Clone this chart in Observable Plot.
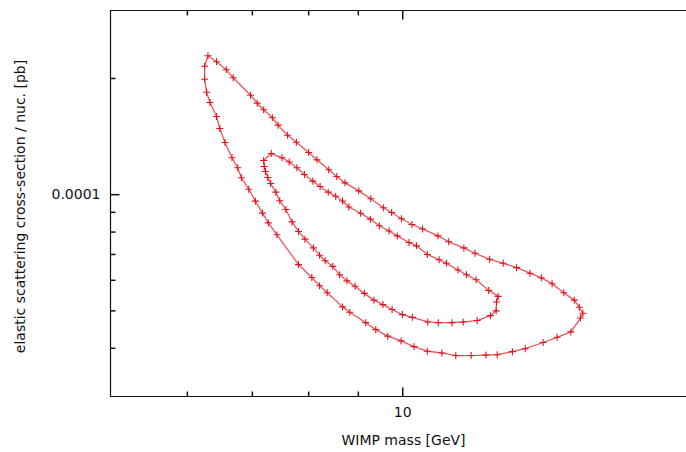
<!DOCTYPE html>
<html>
<head>
<meta charset="utf-8">
<script src="https://cdn.jsdelivr.net/npm/d3@7"></script>
<script src="https://cdn.jsdelivr.net/npm/@observablehq/plot@0.6"></script>
<style>
  html, body { margin: 0; padding: 0; background: #fff; }
  #chart { width: 686px; height: 452px; overflow: hidden; }
</style>
</head>
<body>
<div id="chart"></div>
<script>
// ---- Data ----
const xLabel = "WIMP mass [GeV]";
const yLabel = "elastic scattering cross-section / nuc. [pb]";
const xMajorTicks = [10];
const xMinorTicks = [6, 7, 8, 9];
const yMajorTicks = [1e-4];
const yMinorTicks = [4e-5, 5e-5, 6e-5, 7e-5, 8e-5, 9e-5, 2e-4];

// outer contour: WIMP mass [GeV], cross-section [pb]
const outerMass = [6.30, 6.43, 6.58, 6.69, 6.97, 7.08, 7.19, 7.34, 7.44, 7.61, 7.77, 8.00, 8.16, 8.39, 8.55,
  8.72, 9.01, 9.27, 9.55, 9.74, 9.97, 10.22, 10.48, 10.87, 11.15, 11.56, 11.87, 12.29, 12.69, 13.10,
  13.52, 13.89, 14.25, 14.65, 15.02, 15.20, 15.33, 15.24, 14.90, 14.42, 13.95, 13.37, 12.97, 12.51, 12.18,
  11.76, 11.34, 10.97, 10.60, 10.27, 9.96, 9.65, 9.38, 9.16, 8.82, 8.67, 8.36, 8.21, 8.06, 7.81,
  7.42, 7.27, 7.17, 7.05, 6.94, 6.82, 6.76, 6.67, 6.56, 6.48, 6.43, 6.33, 6.28, 6.25, 6.25];
const outerSigma = [22.90e-5, 22.09e-5, 21.06e-5, 20.08e-5, 18.10e-5, 17.26e-5, 16.59e-5, 15.82e-5, 15.14e-5, 14.26e-5,
  13.67e-5, 12.86e-5, 12.31e-5, 11.60e-5, 11.14e-5, 10.73e-5, 10.23e-5, 9.76e-5, 9.25e-5, 8.99e-5,
  8.66e-5, 8.37e-5, 8.15e-5, 7.82e-5, 7.55e-5, 7.28e-5, 7.05e-5, 6.80e-5, 6.64e-5, 6.47e-5,
  6.26e-5, 6.09e-5, 5.88e-5, 5.57e-5, 5.33e-5, 5.11e-5, 4.93e-5, 4.79e-5, 4.41e-5, 4.27e-5,
  4.14e-5, 3.99e-5, 3.92e-5, 3.85e-5, 3.84e-5, 3.83e-5, 3.83e-5, 3.89e-5, 3.93e-5, 4.04e-5,
  4.18e-5, 4.30e-5, 4.47e-5, 4.66e-5, 4.96e-5, 5.12e-5, 5.57e-5, 5.81e-5, 6.10e-5, 6.59e-5,
  7.87e-5, 8.45e-5, 8.96e-5, 9.62e-5, 10.33e-5, 11.06e-5, 11.74e-5, 12.46e-5, 13.65e-5, 14.84e-5,
  15.94e-5, 17.33e-5, 18.43e-5, 19.91e-5, 21.52e-5];

// inner contour
const innerMass = [7.32, 7.51, 7.64, 7.78, 7.92, 8.08, 8.22, 8.38, 8.53, 8.67, 8.80, 9.05, 9.26, 9.46, 9.68,
  9.87, 10.15, 10.33, 10.60, 10.90, 11.09, 11.40, 11.63, 11.90, 12.26, 12.54, 12.49, 12.48, 12.31, 11.93,
  11.54, 11.24, 10.88, 10.61, 10.23, 9.99, 9.75, 9.54, 9.34, 9.13, 8.93, 8.76, 8.61, 8.47, 8.32,
  8.21, 8.09, 7.93, 7.81, 7.69, 7.58, 7.47, 7.40, 7.31, 7.26, 7.22, 7.20, 7.19];
const innerSigma = [12.78e-5, 12.46e-5, 12.15e-5, 11.74e-5, 11.28e-5, 10.84e-5, 10.50e-5, 10.15e-5, 9.91e-5, 9.63e-5,
  9.29e-5, 8.95e-5, 8.64e-5, 8.31e-5, 8.05e-5, 7.82e-5, 7.52e-5, 7.37e-5, 7.00e-5, 6.78e-5,
  6.64e-5, 6.38e-5, 6.20e-5, 6.02e-5, 5.65e-5, 5.45e-5, 5.27e-5, 5.00e-5, 4.86e-5, 4.72e-5,
  4.68e-5, 4.66e-5, 4.66e-5, 4.68e-5, 4.81e-5, 4.89e-5, 5.04e-5, 5.19e-5, 5.33e-5, 5.55e-5,
  5.79e-5, 5.98e-5, 6.20e-5, 6.52e-5, 6.74e-5, 6.97e-5, 7.28e-5, 7.67e-5, 8.03e-5, 8.50e-5,
  9.15e-5, 9.64e-5, 10.15e-5, 10.69e-5, 11.08e-5, 11.48e-5, 11.83e-5, 12.26e-5];

// ---- Build tables ----
function contour(name, xs, ys) {
  return xs.map((m, i) => ({contour: name, mass: m, sigma: ys[i]}));
}
const outerPts = contour("outer", outerMass, outerSigma);
const innerPts = contour("inner", innerMass, innerSigma);
const points = outerPts.concat(innerPts);
// closed loops for the connecting line
const loops = outerPts.concat([outerPts[0]], innerPts, [innerPts[0]]);

// ---- Custom stroke symbols ----
const plusSym = {draw(ctx) { const r = 3.5; ctx.moveTo(-r, 0); ctx.lineTo(r, 0); ctx.moveTo(0, -r); ctx.lineTo(0, r); }};
const seg = (dx, dy) => ({draw(ctx) { ctx.moveTo(0, 0); ctx.lineTo(dx, dy); }});

const red = "#e3121c";
const ink = "#111";

const chart = Plot.plot({
  width: 686,
  height: 452,
  marginLeft: 110,
  marginRight: 0,
  marginTop: 10,
  marginBottom: 56,
  x: {type: "log", domain: [5, 19.6], axis: null},
  y: {type: "log", domain: [3e-5, 3e-4], axis: null},
  style: {fontFamily: "DejaVu Sans", fontSize: "14px", background: "#fff", color: ink},
  marks: [
    // contour lines
    Plot.line(loops, {x: "mass", y: "sigma", z: "contour", stroke: "#e23a40", strokeWidth: 1.3, strokeOpacity: 0.85, curve: "linear"}),
    // "+" markers
    Plot.dot(points, {x: "mass", y: "sigma", symbol: plusSym, fill: "none", stroke: red, strokeWidth: 1.1}),
    // border lines (left, bottom, top)
    Plot.ruleX([5], {stroke: ink, strokeWidth: 1.2}),
    Plot.ruleY([3e-5], {stroke: ink, strokeWidth: 1.2}),
    Plot.ruleY([3e-4], {stroke: ink, strokeWidth: 1.2}),
    // inward ticks: bottom
    Plot.dot(xMajorTicks, {x: d => d, frameAnchor: "bottom", symbol: seg(0, -9), fill: "none", stroke: ink}),
    Plot.dot(xMinorTicks, {x: d => d, frameAnchor: "bottom", symbol: seg(0, -5), fill: "none", stroke: ink}),
    // mirrored ticks: top
    Plot.dot(xMajorTicks, {x: d => d, frameAnchor: "top", symbol: seg(0, 9), fill: "none", stroke: ink}),
    Plot.dot(xMinorTicks, {x: d => d, frameAnchor: "top", symbol: seg(0, 5), fill: "none", stroke: ink}),
    // left ticks
    Plot.dot(yMajorTicks, {y: d => d, frameAnchor: "left", symbol: seg(9, 0), fill: "none", stroke: ink}),
    Plot.dot(yMinorTicks, {y: d => d, frameAnchor: "left", symbol: seg(5, 0), fill: "none", stroke: ink}),
    // tick labels
    Plot.text(xMajorTicks, {x: d => d, frameAnchor: "bottom", dy: 16, lineAnchor: "middle", text: d => String(d), fill: ink}),
    Plot.text(yMajorTicks, {y: d => d, frameAnchor: "left", dx: -10, textAnchor: "end", lineAnchor: "middle", text: d => String(d), fill: ink}),
    // axis labels
    Plot.text([xLabel], {frameAnchor: "bottom", dx: 5, dy: 44, lineAnchor: "middle", textAnchor: "middle", text: d => d, fill: ink}),
    Plot.text([yLabel], {frameAnchor: "left", dx: -90, dy: 3, rotate: -90, textAnchor: "middle", lineAnchor: "middle", text: d => d, fill: ink})
  ]
});
document.getElementById("chart").appendChild(chart);
</script>
</body>
</html>
